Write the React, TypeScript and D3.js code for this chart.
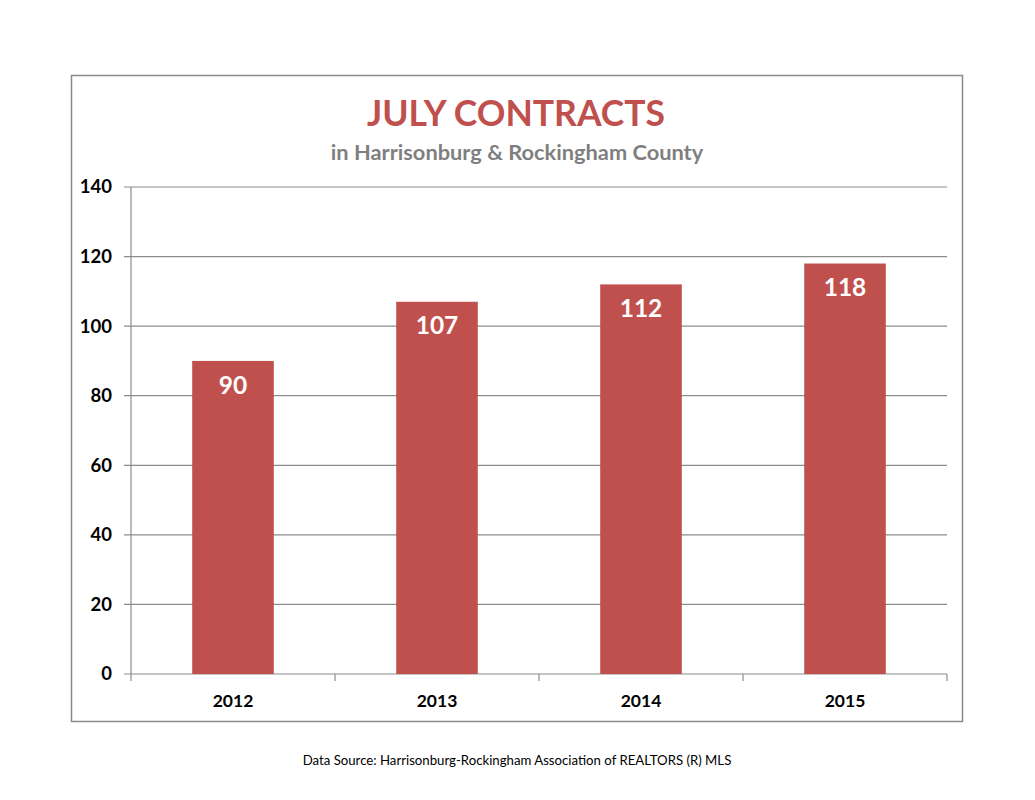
import React, { useEffect, useRef } from 'react';
import * as d3 from 'd3';

const years = ['2012', '2013', '2014', '2015'];
const contracts = [90, 107, 112, 118];
const yTicks = [0, 20, 40, 60, 80, 100, 120, 140];

const titleText = 'JULY CONTRACTS';
const subtitleText = 'in Harrisonburg & Rockingham County';
const sourceText = 'Data Source: Harrisonburg-Rockingham Association of REALTORS (R) MLS';

export default function App() {
  const svgRef = useRef<SVGSVGElement>(null);

  useEffect(() => {
    if (!svgRef.current) return;
    const svg = d3.select(svgRef.current);
    svg.selectAll('*').remove();

    const width = 1035;
    const height = 800;
    const font = "Lato, 'Open Sans', sans-serif";
    const barColor = '#C0504D';
    const gridColor = '#8c8c8c';

    svg.append('rect').attr('width', width).attr('height', height).attr('fill', 'white');

    // Chart frame
    svg.append('rect')
      .attr('x', 71.5)
      .attr('y', 75.5)
      .attr('width', 891)
      .attr('height', 646)
      .attr('fill', 'white')
      .attr('stroke', '#8a8a8a')
      .attr('stroke-width', 1.5);

    const plot = { left: 131, right: 947, top: 187, bottom: 674 };

    const x = d3.scaleBand<string>()
      .domain(years)
      .range([plot.left, plot.right])
      .paddingInner(0.6)
      .paddingOuter(0.3);

    const y = d3.scaleLinear().domain([0, 140]).range([plot.bottom, plot.top]);

    // Gridlines
    svg.append('g')
      .selectAll('line')
      .data(yTicks)
      .join('line')
      .attr('x1', plot.left - 7)
      .attr('x2', plot.right)
      .attr('y1', d => y(d))
      .attr('y2', d => y(d))
      .attr('stroke', gridColor)
      .attr('stroke-width', 1.2);

    // Y axis line
    svg.append('line')
      .attr('x1', plot.left).attr('x2', plot.left)
      .attr('y1', plot.top).attr('y2', plot.bottom)
      .attr('stroke', gridColor).attr('stroke-width', 1.2);

    // X axis category ticks
    const bandStep = x.step();
    const catEdges = d3.range(years.length + 1).map(i => plot.left + i * bandStep);
    svg.append('g')
      .selectAll('line')
      .data(catEdges)
      .join('line')
      .attr('x1', d => d).attr('x2', d => d)
      .attr('y1', plot.bottom).attr('y2', plot.bottom + 7)
      .attr('stroke', gridColor).attr('stroke-width', 1.2);

    // Y tick labels
    svg.append('g')
      .selectAll('text')
      .data(yTicks)
      .join('text')
      .attr('x', 112)
      .attr('y', d => y(d))
      .attr('dy', '0.35em')
      .attr('text-anchor', 'end')
      .attr('font-family', font)
      .attr('font-weight', 'bold')
      .attr('font-size', 18.5)
      .attr('fill', '#000')
      .text(d => d);

    // Bars
    svg.append('g')
      .selectAll('rect')
      .data(contracts)
      .join('rect')
      .attr('x', (_, i) => x(years[i])!)
      .attr('y', d => y(d))
      .attr('width', x.bandwidth())
      .attr('height', d => y(0) - y(d))
      .attr('fill', barColor);

    // Value labels
    svg.append('g')
      .selectAll('text')
      .data(contracts)
      .join('text')
      .attr('x', (_, i) => x(years[i])! + x.bandwidth() / 2)
      .attr('y', d => y(d) + 24)
      .attr('dy', '0.35em')
      .attr('text-anchor', 'middle')
      .attr('font-family', font)
      .attr('font-weight', 'bold')
      .attr('font-size', 24.5)
      .attr('fill', 'white')
      .text(d => d);

    // X labels
    svg.append('g')
      .selectAll('text')
      .data(years)
      .join('text')
      .attr('x', d => x(d)! + x.bandwidth() / 2)
      .attr('y', 701)
      .attr('dy', '0.35em')
      .attr('text-anchor', 'middle')
      .attr('font-family', font)
      .attr('font-weight', 'bold')
      .attr('font-size', 17.5)
      .attr('fill', '#000')
      .text(d => d);

    // Titles
    svg.append('text')
      .attr('x', 516)
      .attr('y', 126)
      .attr('text-anchor', 'middle')
      .attr('font-family', font)
      .attr('font-weight', 'bold')
      .attr('font-size', 35.5)
      .attr('fill', barColor)
      .text(titleText);

    svg.append('text')
      .attr('x', 517)
      .attr('y', 160)
      .attr('text-anchor', 'middle')
      .attr('font-family', font)
      .attr('font-weight', 'bold')
      .attr('font-size', 21.8)
      .attr('fill', '#7f7f7f')
      .text(subtitleText);

    svg.append('text')
      .attr('x', 517)
      .attr('y', 765)
      .attr('text-anchor', 'middle')
      .attr('font-family', font)
      .attr('font-size', 13.2)
      .attr('fill', '#000')
      .text(sourceText);
  }, []);

  return (
    <div style={{ position: 'absolute', left: 0, top: 0 }}>
      <svg ref={svgRef} width={1035} height={800} style={{ display: 'block' }}></svg>
    </div>
  );
}
